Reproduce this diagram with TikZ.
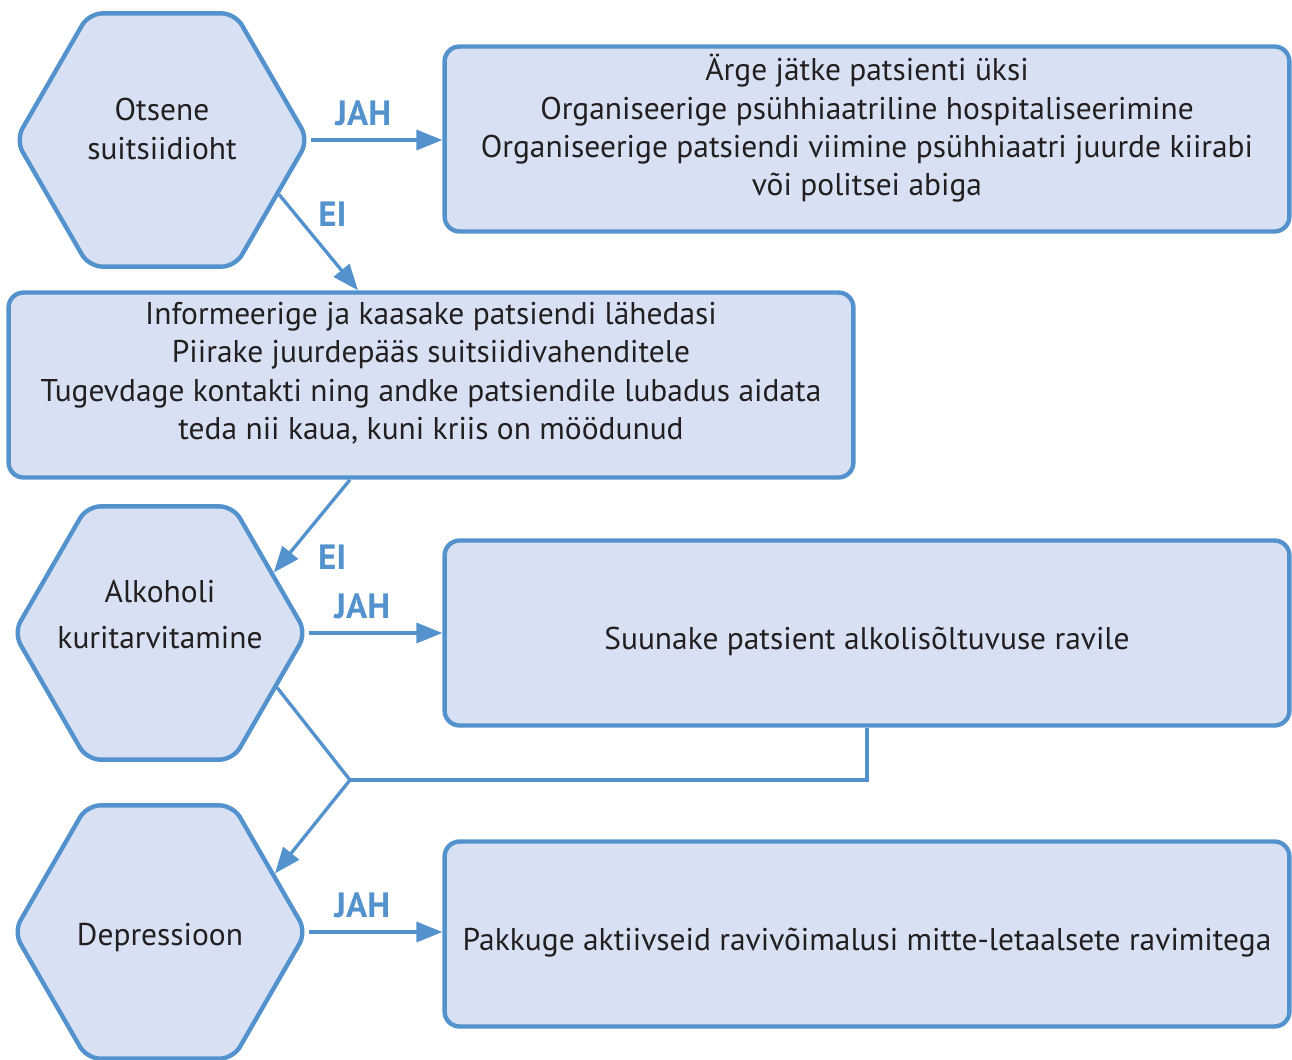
\documentclass[tikz,border=0pt]{standalone}
\usepackage{fontspec}
\setmainfont{PT Sans}
\usetikzlibrary{arrows.meta,shapes.geometric}

\definecolor{lineblue}{RGB}{83,146,205}
\definecolor{fillblue}{RGB}{216,225,243}
\definecolor{txtgray}{RGB}{35,31,32}

\begin{document}
\begin{tikzpicture}[x=0.02cm,y=-0.02cm,line width=1.9pt,>={Triangle[length=5.2mm,width=4mm]},
  hexa/.style={regular polygon,regular polygon sides=6,minimum size=5.85cm,inner sep=0pt,
    draw=lineblue,line width=2.5pt,fill=fillblue,rounded corners=0.27cm},
  hextext/.style={align=center,text=txtgray,font=\fontsize{17.9}{#1}\selectfont},
  hextext/.default=22.7pt,
  infobox/.style={draw=lineblue,line width=2.5pt,fill=fillblue,rounded corners=0.3cm,
    minimum width=16.9cm,minimum height=3.7cm,align=center,text=txtgray,
    font=\fontsize{17.9}{21.8}\selectfont},
  lbl/.style={text=lineblue,font=\bfseries\fontsize{20}{24}\selectfont},
  conn/.style={draw=lineblue}]
  \useasboundingbox (0,0) rectangle (1292,1059);
  % otsustuskohad
  \node[hexa,label={[hextext,yshift=0.22cm]center:{Otsene\\suitsiidioht}}] (risk) at (162,140) {};
  \node[hexa,label={[hextext=26.6pt,yshift=0.37cm]center:{Alkoholi\\kuritarvitamine}}] (alco) at (160,633) {};
  \node[hexa,label={[hextext,yshift=-0.1cm]center:{Depressioon}}] (depr) at (160,932) {};
  % tegevused
  \node[infobox,text depth=16pt] (urgent) at (867,139) {Ärge jätke patsienti üksi\\
    Organiseerige psühhiaatriline hospitaliseerimine\\
    Organiseerige patsiendi viimine psühhiaatri juurde kiirabi\\
    või politsei abiga};
  \node[infobox,text depth=16pt] (support) at (431,385) {Informeerige ja kaasake patsiendi lähedasi\\
    Piirake juurdepääs suitsiidivahenditele\\
    Tugevdage kontakti ning andke patsiendile lubadus aidata\\
    teda nii kaua, kuni kriis on möödunud};
  \node[infobox,text height=22pt] (rehab) at (867,633) {Suunake patsient alkolisõltuvuse ravile};
  \node[infobox,text height=22pt] (treat) at (867,934) {Pakkuge aktiivseid ravivõimalusi mitte-letaalsete ravimitega};
  % abipunktid
  \coordinate (eione) at (358,0);
  \coordinate (eitwo) at (350,0);
  \coordinate (junc) at (350,780);
  % nooled
  \draw[->,conn] (risk.east) -- (risk.east -| urgent.west) node[lbl,pos=0.4,above=4pt] {JAH};
  \draw[->,conn] (risk.-25) -- (support.north -| eione) node[lbl,pos=0.2,right=9pt] {EI};
  \draw[->,conn] (support.south -| eitwo) -- (alco.28) node[lbl,pos=0.84,right=14pt] {EI};
  \draw[->,conn] (alco.east) -- (alco.east -| rehab.west) node[lbl,pos=0.4,above=4pt] {JAH};
  \draw[conn] (alco.-25) -- (junc);
  \draw[conn] (rehab.south) |- (junc);
  \draw[->,conn] (junc) -- (depr.27);
  \draw[->,conn] (depr.east) -- (depr.east -| treat.west) node[lbl,pos=0.4,above=4pt] {JAH};
\end{tikzpicture}
\end{document}
